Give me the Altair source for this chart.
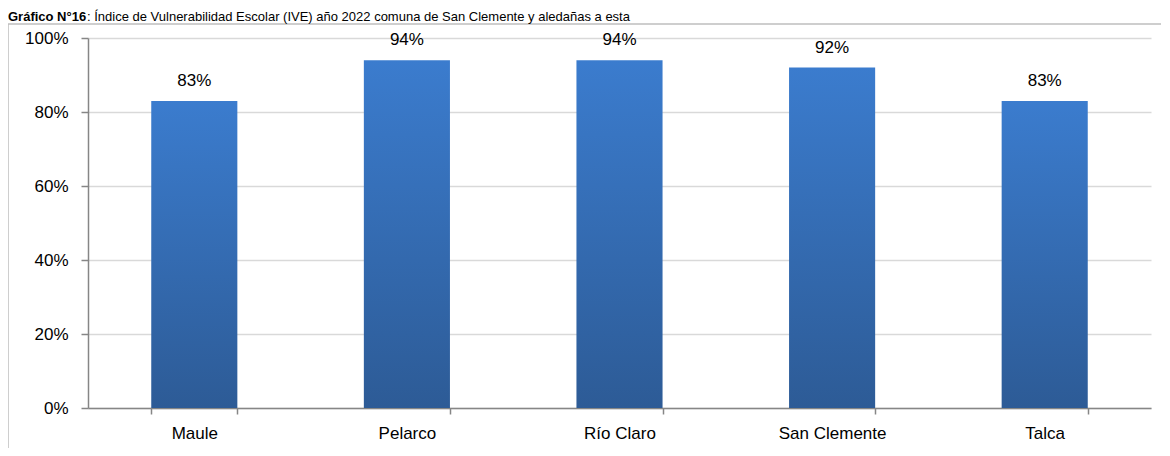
import altair as alt
import pandas as pd

comunas = ["Maule", "Pelarco", "Río Claro", "San Clemente", "Talca"]
ive = [0.83, 0.94, 0.94, 0.92, 0.83]
title_bold = ["Gráfico N°16"]
title_rest = [": Índice de Vulnerabilidad Escolar (IVE) año 2022 comuna de San Clemente y aledañas a esta"]

df = pd.DataFrame({"comuna": comunas, "ive": ive})

FONT = "Liberation Sans, Arial, sans-serif"
W, H = 1063, 370

base = alt.Chart(df)

x_enc = alt.X("comuna:N", sort=comunas, title=None,
              scale=alt.Scale(paddingInner=0.595, paddingOuter=0.2975),
              axis=alt.Axis(labelAngle=0, tickBand="extent", tickSize=6,
                            labelPadding=11, domainColor="#868686", tickColor="#868686",
                            labelFont=FONT, labelFontSize=17, labelColor="#000000",
                            domainWidth=1.5, tickWidth=1.5))
y_enc = alt.Y("ive:Q", title=None,
              scale=alt.Scale(domain=[0, 1], nice=False),
              axis=alt.Axis(format=".0%", values=[0, 0.2, 0.4, 0.6, 0.8, 1.0],
                            tickSize=7, labelPadding=13, domainColor="#868686",
                            tickColor="#868686", gridColor="#D9D9D9", gridWidth=1.5,
                            labelFont=FONT, labelFontSize=17, labelColor="#000000",
                            domainWidth=1.5, tickWidth=1.5))

bars = base.mark_bar(
    color=alt.Gradient(
        gradient="linear",
        stops=[alt.GradientStop(color="#3B7CCE", offset=0),
               alt.GradientStop(color="#2D5B96", offset=1)],
        x1=0, x2=0, y1=0, y2=1,
    )
).encode(x=x_enc, y=y_enc)

labels = base.mark_text(font=FONT, fontSize=17, baseline="alphabetic", dy=-15,
                        color="#000000").encode(
    x=alt.X("comuna:N", sort=comunas),
    y=alt.Y("ive:Q"),
    text=alt.Text("ive:Q", format=".0%"),
)

frame = alt.Chart(pd.DataFrame({"a": [0]})).mark_rect(
    fill=None, stroke="#BFBFBF", strokeWidth=1.5
).encode(x=alt.value(-80), x2=alt.value(W + 20), y=alt.value(-14), y2=alt.value(H + 60))

t1 = alt.Chart(pd.DataFrame({"t": title_bold})).mark_text(
    font=FONT, fontSize=13, fontWeight="bold", align="left", baseline="alphabetic", color="#000000"
).encode(x=alt.value(-80), y=alt.value(-17), text="t:N")

t2 = alt.Chart(pd.DataFrame({"t": title_rest})).mark_text(
    font=FONT, fontSize=13, align="left", baseline="alphabetic", color="#000000"
).encode(x=alt.value(-1), y=alt.value(-17), text="t:N")

chart = alt.layer(frame, bars, labels, t1, t2).properties(
    width=W, height=H,
    autosize=alt.AutoSizeParams(type="none"),
    padding={"left": 80, "top": 30, "right": 10, "bottom": 40},
    background="#FFFFFF",
).configure_view(stroke=None)

chart.save("out.html", embed_options={"renderer": "svg", "actions": False})
